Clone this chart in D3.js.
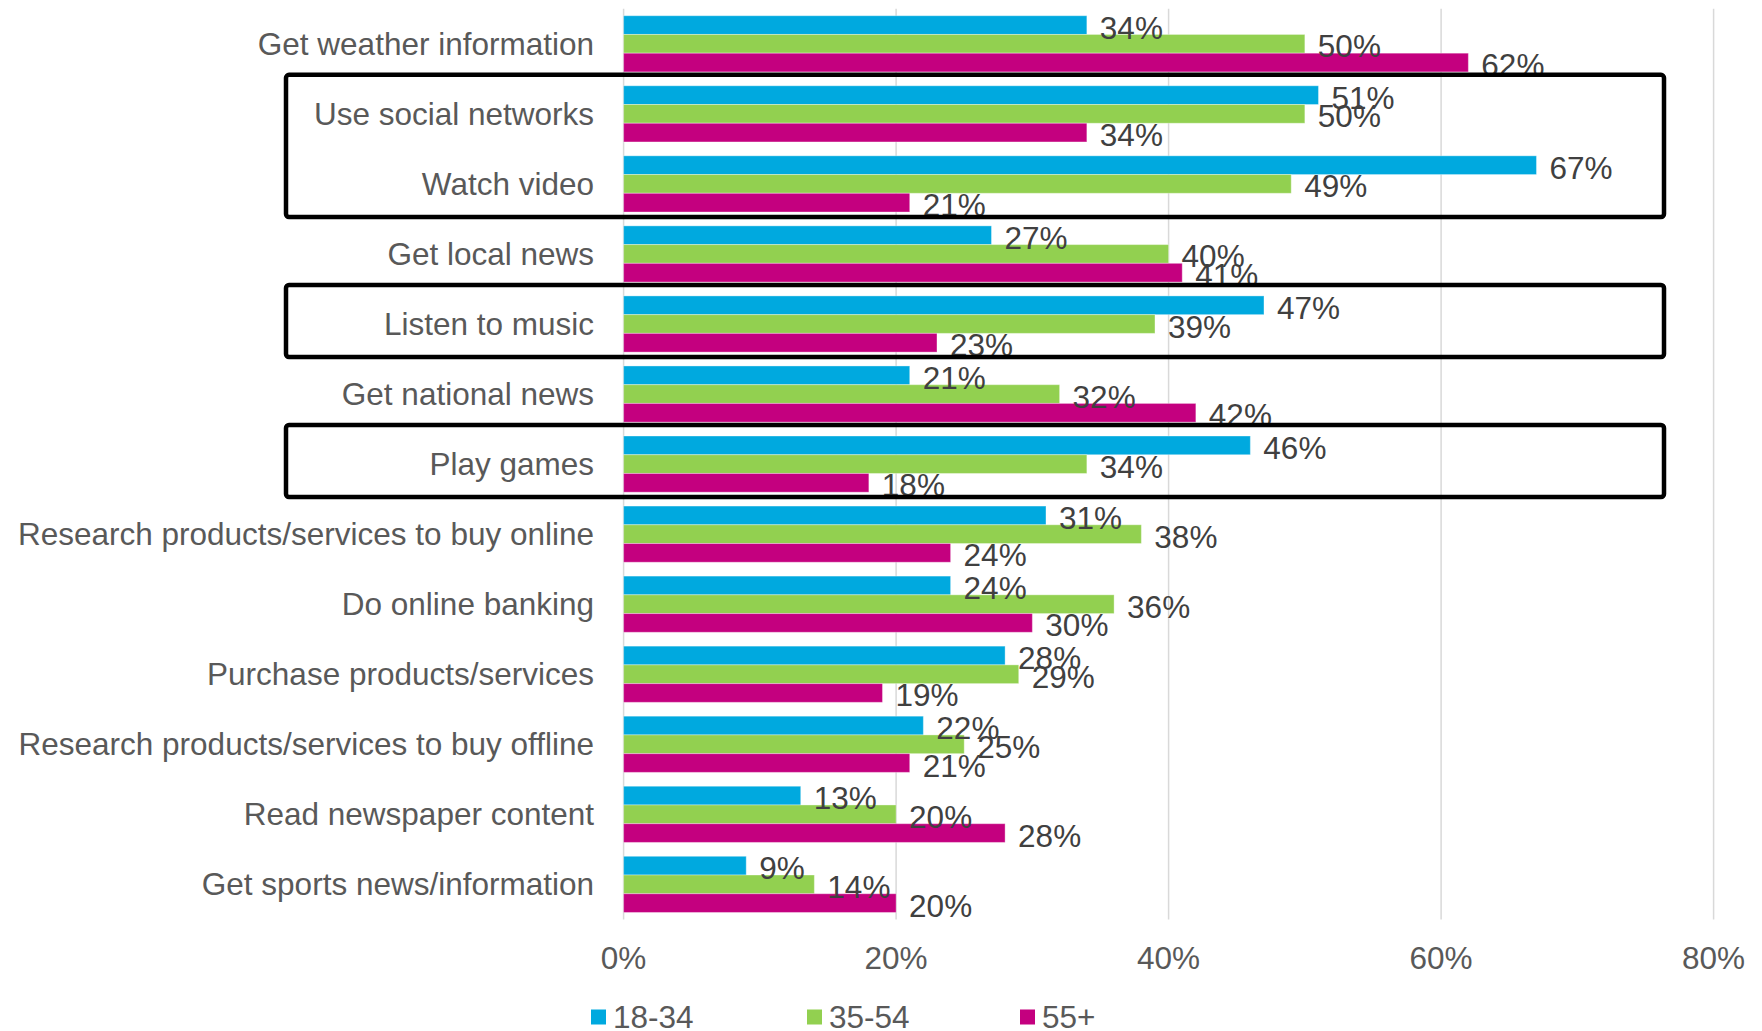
<!DOCTYPE html>
<html>
<head>
<meta charset="utf-8">
<script src="https://cdn.jsdelivr.net/npm/d3@7/dist/d3.min.js"></script>
<style>
  html, body { margin: 0; padding: 0; background: #ffffff; }
  svg { display: block; font-family: "Liberation Sans", Arial, sans-serif; }
</style>
</head>
<body>
<svg id="chart" width="1762" height="1031"></svg>
<script>
// Activities, top to bottom
const categories = [
  "Get weather information",
  "Use social networks",
  "Watch video",
  "Get local news",
  "Listen to music",
  "Get national news",
  "Play games",
  "Research products/services to buy online",
  "Do online banking",
  "Purchase products/services",
  "Research products/services to buy offline",
  "Read newspaper content",
  "Get sports news/information"
];

// Age groups
const seriesNames = ["18-34", "35-54", "55+"];
const seriesColors = ["#00a9df", "#92d050", "#c4007f"];

// Share of respondents (%) per activity, one array per age group
const values1834 = [34, 51, 67, 27, 47, 21, 46, 31, 24, 28, 22, 13, 9];
const values3554 = [50, 50, 49, 40, 39, 32, 34, 38, 36, 29, 25, 20, 14];
const values55   = [62, 34, 21, 41, 23, 42, 18, 24, 30, 19, 21, 28, 20];

// X axis ticks
const tickValues = [0, 20, 40, 60, 80];

// Activity groups outlined with a frame
const highlightGroups = [
  ["Use social networks", "Watch video"],
  ["Listen to music"],
  ["Play games"]
];

const seriesValues = [values1834, values3554, values55];
const fontSize = 31.5;

const svg = d3.select("#chart");

const x = d3.scaleLinear().domain([0, 80]).range([623.6, 1713.6]);
const y0 = d3.scaleBand().domain(categories).range([8.8, 919.4]).padding(0);
const y1 = d3.scaleBand().domain(seriesNames).range([0, y0.bandwidth()])
  .paddingInner(0).paddingOuter(0.37);

// Vertical gridlines
svg.append("g")
  .selectAll("line")
  .data(tickValues)
  .join("line")
  .attr("x1", d => x(d)).attr("x2", d => x(d))
  .attr("y1", 8.8).attr("y2", 919.4)
  .attr("stroke", "#d9d9d9")
  .attr("stroke-width", 1.5);

// X tick labels
svg.append("g")
  .selectAll("text")
  .data(tickValues)
  .join("text")
  .attr("x", d => x(d))
  .attr("y", 958)
  .attr("dy", "0.35em")
  .attr("text-anchor", "middle")
  .attr("font-size", fontSize)
  .attr("fill", "#595959")
  .text(d => d + "%");

// Category labels
svg.append("g")
  .selectAll("text")
  .data(categories)
  .join("text")
  .attr("x", 594)
  .attr("y", d => y0(d) + y0.bandwidth() / 2)
  .attr("dy", "0.35em")
  .attr("text-anchor", "end")
  .attr("font-size", fontSize)
  .attr("fill", "#595959")
  .text(d => d);

// Flattened bar records
const records = [];
categories.forEach((c, i) => {
  seriesNames.forEach((s, j) => {
    records.push({ cat: c, series: s, color: seriesColors[j], value: seriesValues[j][i] });
  });
});

// Bars
svg.append("g")
  .selectAll("rect")
  .data(records)
  .join("rect")
  .attr("x", x(0))
  .attr("y", d => y0(d.cat) + y1(d.series))
  .attr("width", d => x(d.value) - x(0))
  .attr("height", y1.bandwidth())
  .attr("fill", d => d.color)
  .attr("stroke", "#ffffff")
  .attr("stroke-opacity", 0.35)
  .attr("stroke-width", 1);

// Value labels
svg.append("g")
  .selectAll("text")
  .data(records)
  .join("text")
  .attr("x", d => x(d.value) + 13)
  .attr("y", d => y0(d.cat) + y1(d.series) + y1.bandwidth() / 2 + 2.5)
  .attr("dy", "0.35em")
  .attr("font-size", fontSize)
  .attr("fill", "#404040")
  .text(d => d.value + "%");

// Highlight frames around selected activities
const frameLeft = 286, frameRight = 1664;
svg.append("g")
  .selectAll("rect")
  .data(highlightGroups)
  .join("rect")
  .attr("x", frameLeft)
  .attr("y", g => y0(g[0]) - 4)
  .attr("width", frameRight - frameLeft)
  .attr("height", g => y0(g[g.length - 1]) + y0.bandwidth() - 2 - (y0(g[0]) - 4))
  .attr("rx", 3)
  .attr("fill", "none")
  .attr("stroke", "#000000")
  .attr("stroke-width", 4.5);

// Legend
const legendX = [591, 807, 1020];
const legend = svg.append("g")
  .selectAll("g")
  .data(seriesNames)
  .join("g")
  .attr("transform", (d, i) => `translate(${legendX[i]},1017)`);
legend.append("rect")
  .attr("x", 0).attr("y", -7.5)
  .attr("width", 15).attr("height", 15)
  .attr("fill", (d, i) => seriesColors[i]);
legend.append("text")
  .attr("x", 22)
  .attr("y", 0)
  .attr("dy", "0.35em")
  .attr("font-size", fontSize)
  .attr("fill", "#595959")
  .text(d => d);
</script>
</body>
</html>
